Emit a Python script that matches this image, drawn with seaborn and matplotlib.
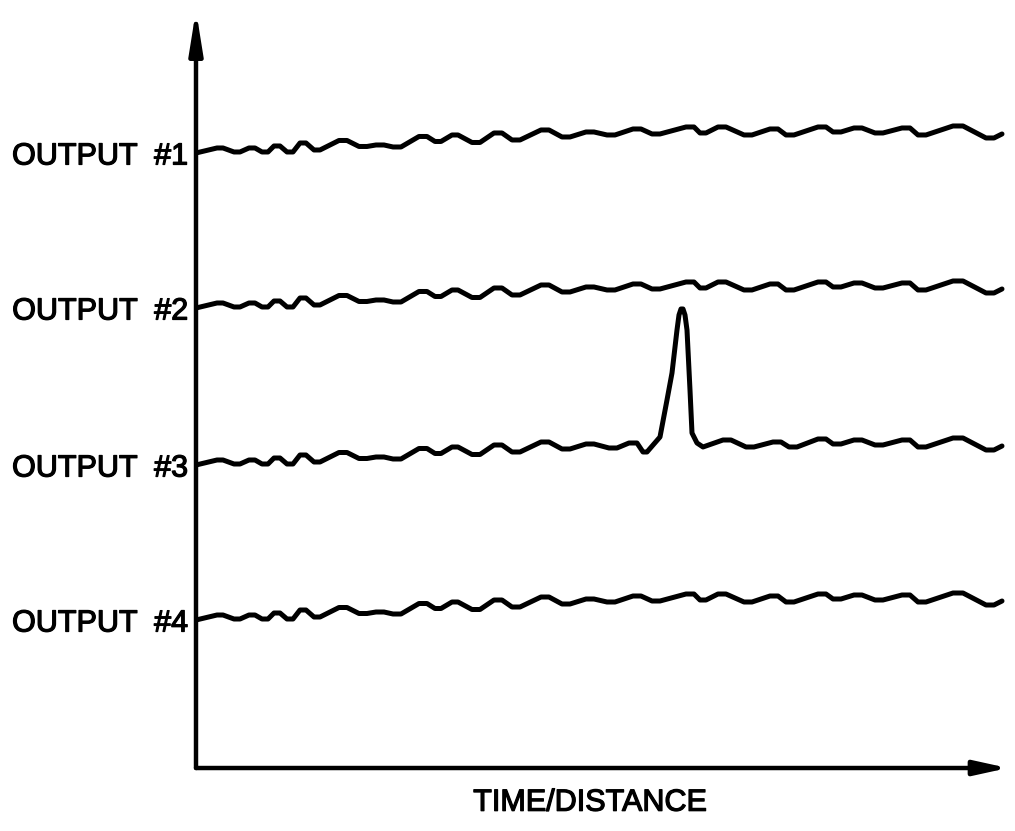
import numpy as np
import pandas as pd
import matplotlib
matplotlib.use("Agg")
import matplotlib.pyplot as plt
import matplotlib.patheffects as pe
import seaborn as sns

# стиль
sns.set_theme(style="white")
plt.rcParams['font.family'] = ['Liberation Sans', 'DejaVu Sans']
plt.rcParams['text.color'] = 'black'
plt.rcParams['axes.labelcolor'] = 'black'
plt.rcParams['ytick.color'] = 'black'

# данные (время / уровень сигнала)
labels = ["OUTPUT  #1", "OUTPUT  #2", "OUTPUT  #3", "OUTPUT  #4"]
starts = [615, 460, 303, 148]

t = [0, 21, 27, 38, 44, 53, 59, 66, 72, 78, 84, 91, 97, 104, 110, 118, 124, 143, 151,
     163, 171, 180, 188, 197, 205, 223, 231, 239, 245, 256, 262, 276, 284, 298, 306,
     316, 324, 345, 353, 366, 374, 390, 398, 411, 419, 437, 445, 456, 464, 490, 498,
     504, 510, 522, 530, 548, 556, 574, 582, 590, 598, 622, 630, 637, 645, 658, 666,
     679, 687, 706, 714, 722, 730, 757, 767, 790, 798, 806]
out1 = [615, 620, 620, 616, 616, 620, 620, 616, 616, 622, 622, 616, 616, 625, 625,
        618, 618, 627.5, 627.5, 621.5, 621.5, 623, 623, 621, 621, 631.5, 631.5,
        626.5, 626.5, 633, 633, 625.5, 625.5, 635, 635, 628, 628, 638, 638, 631, 631,
        636, 636, 633, 633, 639, 639, 634, 634, 641, 641, 635, 635, 641, 641, 633, 633,
        639, 639, 633, 633, 641, 641, 636, 636, 640, 640, 635, 635, 640, 640, 633, 633,
        642, 642, 630, 630, 634]
out2 = [460, 465, 465, 461, 461, 465, 465, 461, 461, 467, 467, 461, 461, 470, 470,
        463, 463, 472.5, 472.5, 466.5, 466.5, 468, 468, 466, 466, 476.5, 476.5,
        471.5, 471.5, 478, 478, 470.5, 470.5, 480, 480, 473, 473, 483, 483, 476, 476,
        481, 481, 478, 478, 484, 484, 479, 479, 486, 486, 480, 480, 486, 486, 478, 478,
        484, 484, 478, 478, 486, 486, 481, 481, 485, 485, 480, 480, 485, 485, 478, 478,
        487, 487, 475, 475, 479]
out4 = [148, 153, 153, 149, 149, 153, 153, 149, 149, 155, 155, 149, 149, 158, 158,
        151, 151, 160.5, 160.5, 154.5, 154.5, 156, 156, 154, 154, 164.5, 164.5,
        159.5, 159.5, 166, 166, 158.5, 158.5, 168, 168, 161, 161, 171, 171, 164, 164,
        169, 169, 166, 166, 172, 172, 167, 167, 174, 174, 168, 168, 174, 174, 166, 166,
        172, 172, 166, 166, 174, 174, 169, 169, 173, 173, 168, 168, 173, 173, 166, 166,
        175, 175, 163, 163, 167]

# выход 3 с импульсом
t3 = [0, 21, 27, 38, 44, 53, 59, 66, 72, 78, 84, 91, 97, 104, 110, 118, 124, 143, 151,
      163, 171, 180, 188, 197, 205, 223, 231, 239, 245, 256, 262, 276, 284, 298, 306,
      316, 324, 345, 353, 366, 374, 390, 398, 413, 421, 433, 441, 447, 451,
      464, 471, 476, 481, 483, 485, 487, 489, 491, 494, 496, 501, 507,
      527, 535, 550, 558, 577, 585, 593, 601, 622, 630, 637, 645, 658, 666, 679, 687,
      706, 714, 722, 730, 757, 767, 790, 798, 806]
out3 = [303, 308, 308, 304, 304, 308, 308, 304, 304, 310, 310, 304, 304, 313, 313,
        306, 306, 315.5, 315.5, 309.5, 309.5, 311, 311, 309, 309, 319.5, 319.5,
        314.5, 314.5, 321, 321, 313.5, 313.5, 323, 323, 316, 316, 326, 326, 319, 319,
        324, 324, 320, 320, 325, 325, 316, 316,
        331, 368, 395, 438, 453, 459, 459, 453, 438, 378, 335, 325, 321,
        328, 328, 321, 321, 326, 326, 321, 321, 329, 329, 324, 324, 328, 328, 323, 323,
        328, 328, 321, 321, 330, 330, 318, 318, 322]

series = {"OUTPUT  #1": (t, out1), "OUTPUT  #2": (t, out2),
          "OUTPUT  #3": (t3, out3), "OUTPUT  #4": (t, out4)}

fig = plt.figure(figsize=(10.15, 8.31), dpi=100)
ax = fig.add_axes([0.1931, 0.0758, 0.8, 0.9122])

for name, (xx, yy) in series.items():
    df = pd.DataFrame({"t": xx, "y": yy})
    sns.lineplot(data=df, x="t", y="y", color="black", linewidth=3.6,
                 sort=False, estimator=None, ax=ax, solid_joinstyle="round",
                 solid_capstyle="round")

ax.set_xlim(0, 812)
ax.set_ylim(0, 758)
for s in ax.spines.values():
    s.set_visible(False)

# оси со стрелками
arrow_kw = dict(arrowstyle="-|>,head_length=1.25,head_width=0.2", color="black",
                lw=3.2, shrinkA=0, shrinkB=0, mutation_scale=20)
ax.annotate("", xy=(0, 1), xytext=(0, 0), xycoords="axes fraction",
            arrowprops=arrow_kw, annotation_clip=False)
ax.annotate("", xy=(1, 0), xytext=(0, 0), xycoords="axes fraction",
            arrowprops=dict(arrow_kw, arrowstyle="-|>,head_length=1.0,head_width=0.22"),
            annotation_clip=False)

bold = [pe.withStroke(linewidth=0.9, foreground="black")]
ax.set_xticks([])
ax.set_yticks(starts)
ax.set_yticklabels(labels, fontsize=22)
for lab in ax.get_yticklabels():
    lab.set_path_effects(bold)
ax.tick_params(axis="y", length=0, pad=6)
ax.set_xlabel("TIME/DISTANCE", fontsize=22)
ax.set_ylabel("")
ax.xaxis.set_label_coords(0.485, -0.026)
ax.xaxis.label.set_va("top")
ax.xaxis.label.set_path_effects(bold)

fig.savefig("out.png", dpi=100)
